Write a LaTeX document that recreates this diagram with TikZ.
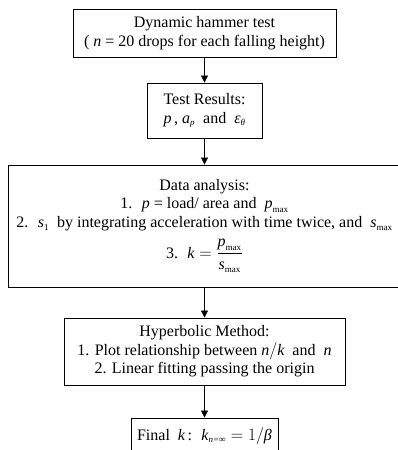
\documentclass[tikz,border=0pt]{standalone}
\usepackage{amsmath}
\usepackage{fontspec}
\setmainfont{Liberation Serif}
\usetikzlibrary{arrows.meta}
% italic letter set in the text face
\newcommand{\mi}[1]{\text{\itshape #1}}
\newcommand{\sub}[1]{\text{\fontsize{9}{9}\selectfont #1}}
\begin{document}
\begin{tikzpicture}[x=1pt,y=1pt,
  box/.style={draw, line width=0.9pt, inner sep=0pt, align=center, font=\fontsize{16}{19}\selectfont},
  flow/.style={-{Triangle[length=7pt,width=7pt]}, line width=0.6pt}]
\useasboundingbox (0,0) rectangle (398,-450);

\node[box, minimum width=263, minimum height=48] (test) at (204.5,-33)
  {Dynamic hammer test\\( $\mi{n}$ = 20 drops for each falling height)};

\node[box, minimum width=115, minimum height=55] (res) at (204.5,-110.5)
  {Test Results:\\$\mi{p}$\,, $\mi{a}_{\sub{\itshape p}}$ \ and \ $\mi{ε}_{\sub{\itshape θ}}$};

\node[box, minimum width=393, minimum height=122, font=\fontsize{16}{18.5}\selectfont] (data) at (204.5,-226)
  {Data analysis:\\
   1. \ $\mi{p}$ = load/ area and \ $\mi{p}_{\sub{max}}$\\
   2. \ $\mi{s}_{\sub{1}}$ \ by integrating acceleration with time twice, and \ $\mi{s}_{\sub{max}}$\\[7pt]
   3. \ $\mi{k}=\dfrac{\mi{p}_{\sub{max}}}{\mi{s}_{\sub{max}}}$};

\node[box, minimum width=281, minimum height=67, font=\fontsize{16}{18.5}\selectfont] (hyp) at (204.5,-351.5)
  {Hyperbolic Method:\\
   1. Plot relationship between $\mi{n}/\mi{k}$ \ and \ $\mi{n}$\\
   2. Linear fitting passing the origin};

\node[box, minimum width=147, minimum height=36] (fin) at (204.5,-436)
  {Final \ $\mi{k}$\,: \ $\mi{k}_{\sub{\itshape n=∞}} = 1/\mi{β}$};

\draw[flow] (test) -- (res);
\draw[flow] (res) -- (data);
\draw[flow] (data) -- (hyp);
\draw[flow] (hyp) -- (fin);
\end{tikzpicture}
\end{document}
